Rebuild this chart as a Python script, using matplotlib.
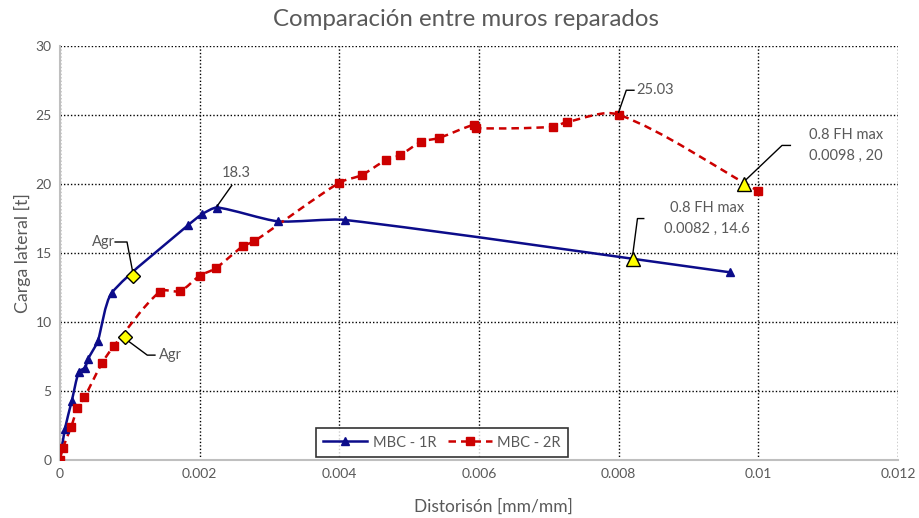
import numpy as np
import matplotlib
matplotlib.use('Agg')
import matplotlib.pyplot as plt
from matplotlib.path import Path
from matplotlib.patches import PathPatch

plt.rcParams['font.family'] = ['Lato', 'DejaVu Sans']

# MBC - 1R
x1 = [0, 0.00007, 0.00017, 0.00027, 0.00036, 0.0004, 0.00054, 0.00074,
      0.00183, 0.00203, 0.00225, 0.00312, 0.00408, 0.0096]
y1 = [0, 2.25, 4.3, 6.4, 6.7, 7.3, 8.6, 12.1,
      17.0, 17.8, 18.3, 17.3, 17.4, 13.6]

# MBC - 2R
x2 = [0, 0.00004, 0.00016, 0.00025, 0.00035, 0.0006, 0.00077, 0.00143,
      0.00172, 0.002, 0.00223, 0.00262, 0.00278, 0.004, 0.00432, 0.00467,
      0.00487, 0.00517, 0.00543, 0.00593, 0.00596, 0.00706, 0.00726, 0.008, 0.01]
y2 = [0, 0.85, 2.4, 3.75, 4.55, 7.0, 8.25, 12.2,
      12.25, 13.35, 13.9, 15.5, 15.85, 20.1, 20.65, 21.75,
      22.1, 23.05, 23.35, 24.3, 24.05, 24.15, 24.5, 25.03, 19.5]

# puntos de agrietamiento y 0.8 FH max
agr_x = [0.00105, 0.00093]
agr_y = [13.3, 8.9]
fh_x = [0.0082, 0.0098]
fh_y = [14.6, 20]

grey = '#595959'
blue = '#0C0C8A'
red = '#CC0000'

XMAX, YMAX = 0.012, 30
# escala aproximada en pixeles para suavizar como Excel
SX, SY = 838 / XMAX, 414 / YMAX


def smooth_path(xs, ys, k=0.22):
    p = np.column_stack([np.array(xs) * SX, np.array(ys) * SY])
    n = len(p)

    def tang(i):
        a = p[i - 1] if i > 0 else p[i]
        b = p[i + 1] if i + 1 < n else p[i]
        d = b - a
        return d / np.hypot(*d)

    verts = [p[0]]
    codes = [Path.MOVETO]
    for i in range(n - 1):
        L = np.hypot(*(p[i + 1] - p[i]))
        c1 = p[i] + tang(i) * L * k
        c2 = p[i + 1] - tang(i + 1) * L * k
        verts += [c1, c2, p[i + 1]]
        codes += [Path.CURVE4] * 3
    v = np.array(verts) / [SX, SY]
    return Path(v, codes)


fig = plt.figure(figsize=(9.2, 5.18), dpi=100)
ax = fig.add_axes([0.0652, 0.112, 0.9108, 0.799])

ax.add_patch(PathPatch(smooth_path(x1, y1), fc='none', ec=blue, lw=1.8, zorder=3))
ax.add_patch(PathPatch(smooth_path(x2, y2, k=0.3), fc='none', ec=red, lw=1.8,
                       ls=(0, (3, 2)), zorder=3))
ax.plot(x1, y1, ls='none', marker='^', ms=5.5, color=blue, zorder=4)
ax.plot(x2, y2, ls='none', marker='s', ms=5.5, color=red, zorder=4)
# entradas de leyenda
ax.plot([], [], '-', marker='^', ms=5.5, color=blue, lw=1.8, label='MBC - 1R')
ax.plot([], [], ls=(0, (3, 2)), marker='s', ms=5.5, color=red, lw=1.8, label='MBC - 2R')

ax.plot(agr_x, agr_y, ls='none', marker='D', ms=7.5, mfc='#FFFF00', mec='black',
        mew=1, zorder=5)
ax.plot(fh_x, fh_y, ls='none', marker='^', ms=10, mfc='#FFFF00', mec='black',
        mew=1, zorder=5)

ax.set_xlim(0, XMAX)
ax.set_ylim(0, YMAX)
ax.set_xticks(np.arange(0, 0.0121, 0.002))
ax.set_xticklabels(['0', '0.002', '0.004', '0.006', '0.008', '0.01', '0.012'])
ax.set_yticks(range(0, 31, 5))
ax.grid(True, color='black', ls=(0, (1, 1.5)), lw=1)
ax.set_axisbelow(True)
for s in ['top', 'right']:
    ax.spines[s].set_visible(False)
for s in ['left', 'bottom']:
    ax.spines[s].set_color('#BFBFBF')
    ax.spines[s].set_linewidth(1.5)
ax.tick_params(length=0, colors=grey, labelsize=10, pad=6)

fig.text(0.5065, 0.963, 'Comparación entre muros reparados', color=grey,
         fontsize=17.3, ha='center', va='center')
ax.set_xlabel('Distorisón [mm/mm]', color=grey, fontsize=12.5)
ax.xaxis.set_label_coords(0.517, -0.093)
ax.set_ylabel('Carga lateral [t]', color=grey, fontsize=12.8, labelpad=3)

# etiquetas con líneas guía
kw = dict(color=grey, fontsize=10.5, zorder=6)
lk = dict(color='black', lw=1, zorder=4.5)
ax.plot([0.00225, 0.00246], [18.4, 19.9], **lk)
ax.text(0.00252, 20.3, '18.3', ha='center', va='bottom', **kw)

ax.plot([0.008, 0.00811, 0.00822], [25.2, 26.8, 26.8], **lk)
ax.text(0.00825, 26.8, '25.03', ha='left', va='center', **kw)

ax.plot([0.0098, 0.01034, 0.01046], [20.2, 22.8, 22.8], **lk)
ax.text(0.01126, 22.8, '0.8 FH max\n0.0098 , 20', ha='center', va='center',
        linespacing=1.6, **kw)

ax.plot([0.0082, 0.00827, 0.00836], [14.8, 17.5, 17.5], **lk)
ax.text(0.00926, 17.5, '0.8 FH max\n0.0082 , 14.6', ha='center', va='center',
        linespacing=1.6, **kw)

ax.plot([0.00105, 0.00096, 0.00079], [13.4, 15.8, 15.8], **lk)
ax.text(0.00062, 15.8, 'Agr', ha='center', va='center', **kw)

ax.plot([0.00093, 0.00125, 0.00136], [8.8, 7.6, 7.6], **lk)
ax.text(0.00158, 7.6, 'Agr', ha='center', va='center', **kw)

leg = ax.legend(loc='center', bbox_to_anchor=(0.456, 0.042), ncol=2, frameon=True,
                fancybox=False, edgecolor='black', fontsize=10.5, handlelength=3,
                columnspacing=0.8, handletextpad=0.4, borderpad=0.5)
leg.get_frame().set_linewidth(1.2)
for t in leg.get_texts():
    t.set_color(grey)

fig.savefig('out.png', dpi=100)
